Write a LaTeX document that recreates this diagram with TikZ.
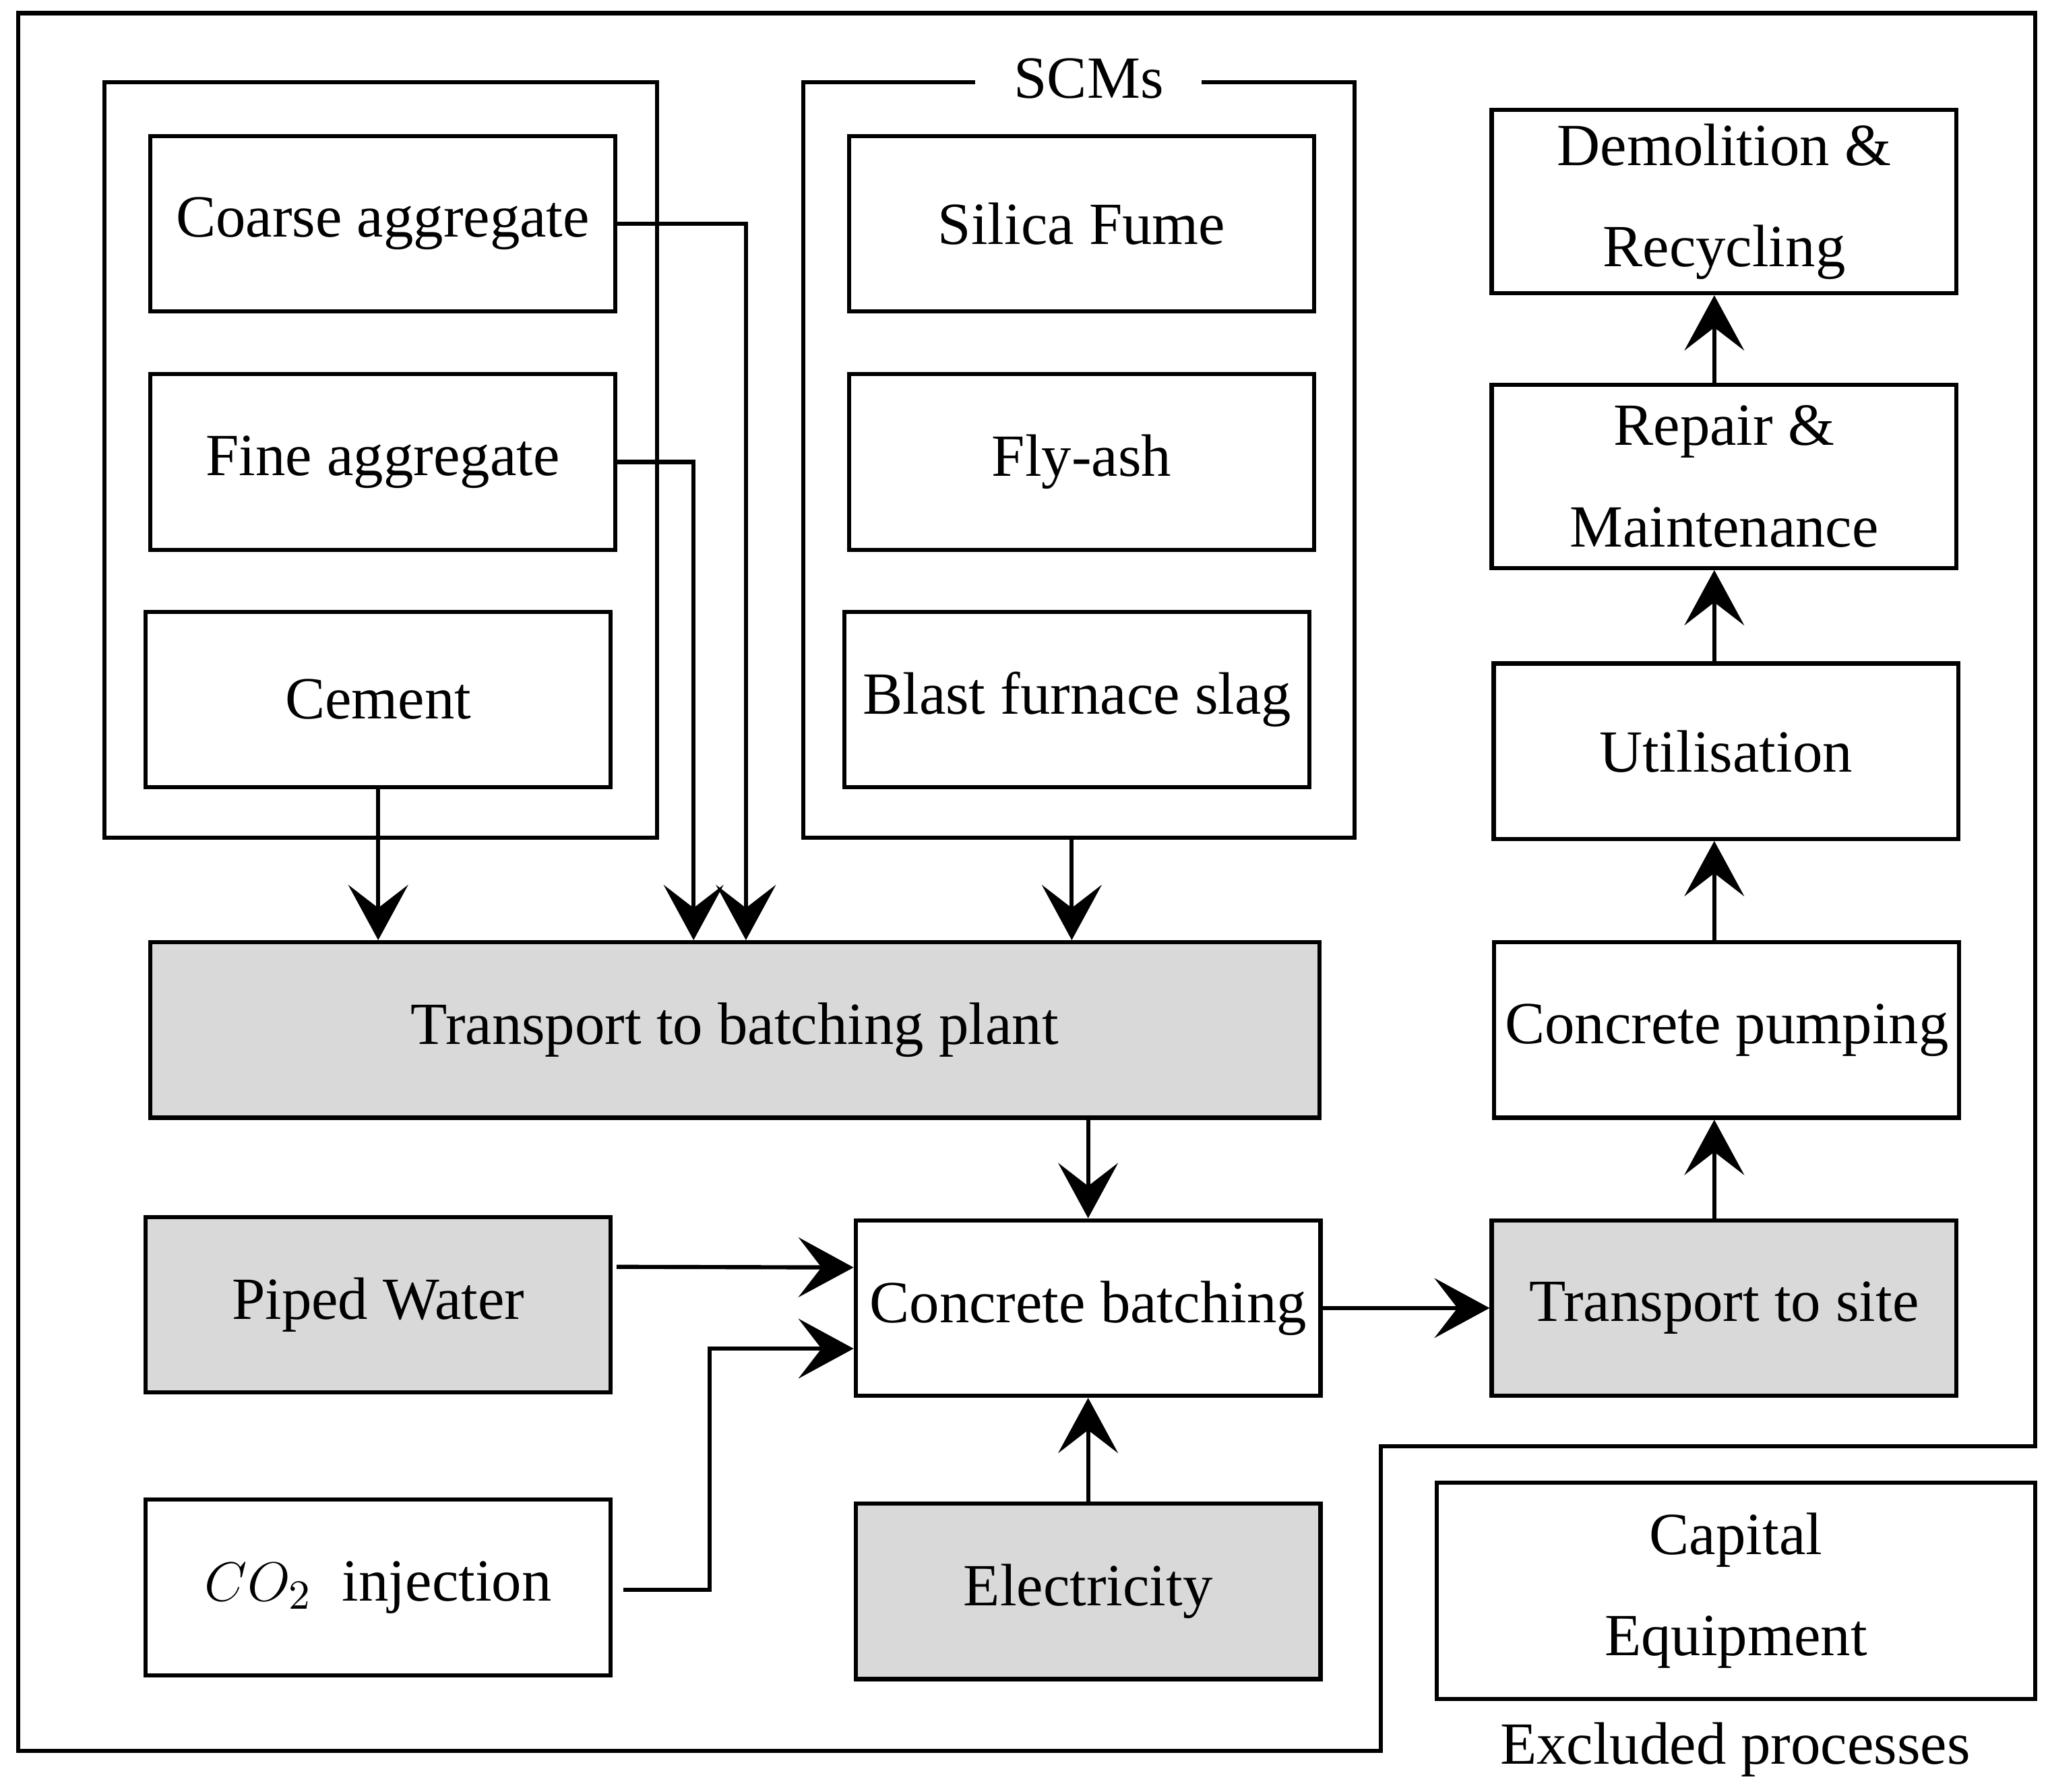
\documentclass[tikz,border=0pt]{standalone}
\usepackage{fontspec}
\setmainfont{Liberation Serif}
\usetikzlibrary{arrows.meta,calc}
\begin{document}
\begin{tikzpicture}[
            x=0.01cm, y=-0.01cm,
            every node/.style = {font=\fontsize{13}{16}\selectfont},
            box/.style = {draw, line width=0.9pt, minimum width=3.55cm, minimum height=1.34cm, align=center, inner sep=0pt},
            shaded/.style = {box, fill=gray!30},
            arr/.style = {line width=0.9pt, -{Stealth[length=12pt, width=13pt, inset=5pt]}}
        ]
        \useasboundingbox (0,0) rectangle (1565,1369);
        % outer frame and groups
        \draw[line width=0.9pt] (14,10) -- (1555,10) -- (1555,1105) -- (1055,1105) -- (1055,1338) -- (14,1338) -- cycle;
        \draw[line width=0.9pt] (80,63) rectangle (502,640);
        \draw[line width=0.9pt] (745,63) -- (614,63) -- (614,640) -- (1035,640) -- (1035,63) -- (918,63);
        \node (scm) at (832,60) {SCMs};
        % raw materials
        \node[box] (coarse) at (292.5,171) {Coarse aggregate};
        \node[box] (fine) at (292.5,353) {Fine aggregate};
        \node[box] (cement) at (289,534.5) {Cement};
        \node[box] (silica) at (826.5,171) {Silica Fume};
        \node[box] (fly) at (826.5,353) {Fly-ash};
        \node[box] (slag) at (823,534.5) {Blast furnace slag};
        % production
        \node[shaded, minimum width=8.93cm] (trans) at (561.5,787) {Transport to batching plant};
        \node[shaded] (water) at (289,997) {Piped Water};
        \node[box] (batch) at (831.5,999.5) {Concrete batching};
        \node[shaded] (site) at (1317.5,999.5) {Transport to site};
        \node[box] (co2) at (289,1213) {$CO_2$\ \ injection};
        \node[shaded] (elec) at (831.5,1216) {Electricity};
        % use phase
        \node[box] (pump) at (1319.5,787) {Concrete pumping};
        \node[box] (util) at (1319,574) {Utilisation};
        \node[box, minimum height=1.40cm] (repair) at (1317.5,364) {Repair \&\\[6pt]Maintenance};
        \node[box, minimum height=1.40cm] (demol) at (1317.5,154) {Demolition \&\\[6pt]Recycling};
        % excluded
        \node[box, minimum width=4.57cm, minimum height=1.65cm] (capital) at (1326.5,1215.5) {Capital\\[6pt]Equipment};
        \node (excl) at (1326,1337) {Excluded processes};
        % connectors
        \coordinate (cx) at (570,0);
        \coordinate (fx) at (530,0);
        \coordinate (sx) at (819,640);
        \draw[arr] (coarse.east) -| (cx |- trans.north);
        \draw[arr] (fine.east) -| (fx |- trans.north);
        \draw[arr] (cement.south) -- (cement.south |- trans.north);
        \draw[arr] (sx) -- (sx |- trans.north);
        \draw[arr] (batch.north |- trans.south) -- (batch.north);
        \draw[arr] ($(water.east)+(3,-29)$) -- ($(batch.west)+(0,-31)$);
        \draw[arr] ($(co2.east)+(8,2)$) -- ++(66,0) |- ($(batch.west)+(0,31)$);
        \draw[arr] (elec.north) -- (batch.south);
        \draw[arr] (batch.east) -- (site.west);
        \draw[arr] (site.north -| 1310,0) -- (pump.south -| 1310,0);
        \draw[arr] (pump.north -| 1310,0) -- (util.south -| 1310,0);
        \draw[arr] (util.north -| 1310,0) -- (repair.south -| 1310,0);
        \draw[arr] (repair.north -| 1310,0) -- (demol.south -| 1310,0);
    \end{tikzpicture}
\end{document}
